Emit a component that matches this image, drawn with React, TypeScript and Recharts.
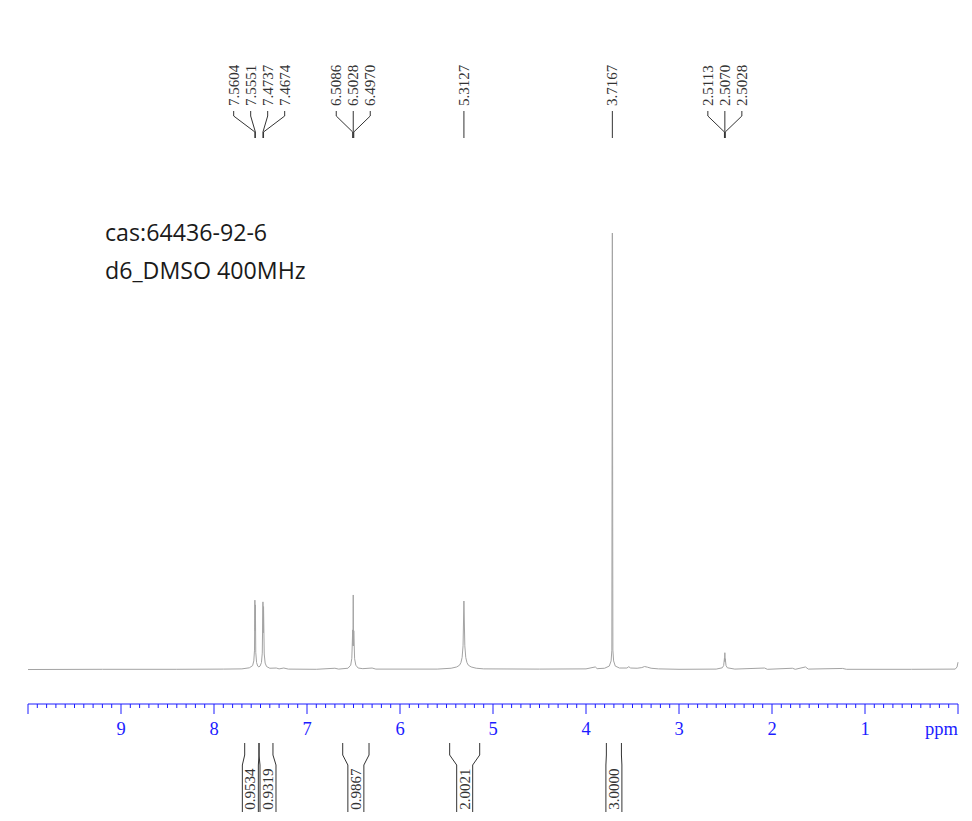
import { ComposedChart, Line, ReferenceLine, XAxis, YAxis } from "recharts";

// 1H NMR spectrum (ppm, relative intensity)
const SPECTRUM_PPM = [
  10.0, 9.2, 8.4, 7.9, 7.7, 7.62, 7.585, 7.572, 7.5645, 7.5604, 7.5578, 7.5551, 7.551, 7.542, 7.53,
  7.517, 7.505, 7.49, 7.481, 7.4737, 7.4705, 7.4674, 7.46, 7.45, 7.435, 7.4, 7.33, 7.3, 7.25, 7.2,
  6.9, 6.7, 6.66, 6.56, 6.53, 6.518, 6.5086, 6.5057, 6.5028, 6.4999, 6.497, 6.488, 6.475, 6.45, 6.4,
  6.3, 6.26, 5.6, 5.45, 5.39, 5.36, 5.345, 5.332, 5.322, 5.3127, 5.303, 5.293, 5.28, 5.265, 5.235,
  5.18, 5.1, 4.5, 4.0, 3.9, 3.88, 3.8, 3.75, 3.73, 3.722, 3.7167, 3.711, 3.703, 3.685, 3.64, 3.56,
  3.54, 3.52, 3.45, 3.4, 3.37, 3.34, 3.3, 3.22, 3.0, 2.6, 2.535, 2.52, 2.5113, 2.5092, 2.507, 2.5049,
  2.5028, 2.494, 2.48, 2.4, 2.08, 2.05, 1.78, 1.75, 1.64, 1.61, 1.24, 1.2, 0.5, 0.03, 0.01, 0.0,
];
const SPECTRUM_INTENSITY = [
  0, 0.05, 0.05, 0.1, 0.15, 0.4, 0.9, 2.0, 4.5, 16.1, 9.0, 15.0, 4.0, 1.6, 0.8,
  0.6, 0.8, 1.6, 3.8, 15.7, 8.5, 14.6, 3.6, 1.5, 0.7, 0.3, 0.35, 0.15, 0.35, 0.1,
  0.05, 0.3, 0.1, 0.3, 1.0, 2.6, 9.2, 5.5, 17.3, 5.5, 9.0, 2.5, 1.0, 0.35, 0.2,
  0.35, 0.1, 0.1, 0.3, 0.6, 1.0, 1.6, 2.8, 5.5, 15.9, 5.5, 2.8, 1.6, 1.0, 0.6,
  0.3, 0.15, 0.1, 0.15, 0.6, 0.2, 0.3, 0.8, 2.0, 4.5, 101.3, 4.5, 2.0, 0.8, 0.35, 0.35,
  0.65, 0.35, 0.3, 0.45, 0.7, 0.55, 0.3, 0.15, 0.05, 0.1, 0.4, 0.9, 2.6, 1.9, 3.9, 1.9,
  2.5, 0.9, 0.4, 0.1, 0.35, 0.05, 0.3, 0.05, 0.6, 0.1, 0.25, 0.05, 0.05, 0.1, 0.6, 1.7,
];

// picked peaks, grouped the way the labels are drawn
const PEAK_GROUPS = [
  [7.5604, 7.5551, 7.4737, 7.4674],
  [6.5086, 6.5028, 6.497],
  [5.3127],
  [3.7167],
  [2.5113, 2.507, 2.5028],
];

// integrals (ppm range and value)
const INTEGRAL_FROM = [7.67, 7.516, 6.616, 5.466, 3.781];
const INTEGRAL_TO = [7.516, 7.366, 6.333, 5.143, 3.619];
const INTEGRAL_VALUES = [0.9534, 0.9319, 0.9867, 2.0021, 3.0];
const INTEGRAL_SHIFT = [-1.5, 2, 0, 0, 0];

const MAJOR_TICKS = [10, 9, 8, 7, 6, 5, 4, 3, 2, 1, 0];
const PPM_TICKS = Array.from({ length: 101 }, (_, i) => Math.round(100 - i) / 10);

const TITLE_LINES = ["cas:64436-92-6", "d6_DMSO 400MHz"];

const WIDTH = 972;
const HEIGHT = 821;
const AXIS_BLUE = "#1c1cff";
const INK = "#333333";
const SERIF = '"Liberation Serif", "Times New Roman", serif';
const LABEL_STEP = 17;

const data = SPECTRUM_PPM.map((ppm, i) => ({ ppm, intensity: SPECTRUM_INTENSITY[i] }));

function PpmTick(props: any) {
  const { x, y, payload } = props;
  const v = payload.value;
  const major = MAJOR_TICKS.some((m) => Math.abs(m - v) < 1e-6);
  return (
    <g>
      <line x1={x} x2={x} y1={y} y2={y + (major ? 10 : 4)} stroke={AXIS_BLUE} />
      {major && v > 0.5 && v < 9.5 && (
        <text x={x} y={y + 31} textAnchor="middle" fill={AXIS_BLUE} fontFamily={SERIF} fontSize={18.5}>
          {v}
        </text>
      )}
      {Math.abs(v) < 1e-6 && (
        <text x={x} y={y + 31} textAnchor="end" fill={AXIS_BLUE} fontFamily={SERIF} fontSize={18.5}>
          ppm
        </text>
      )}
    </g>
  );
}

// x1 = peak position, x2 = centre of its label group
function peakLabelShape(text: string, offset: number, single: boolean) {
  return (p: any) => {
    const peakX = p.x1;
    const lx = p.x2 + offset;
    const d = single ? `M${peakX},111 V138` : `M${lx},111 V116 L${peakX},132 V138`;
    return (
      <g>
        <path d={d} stroke={INK} fill="none" strokeWidth={1} />
        <text
          transform={`translate(${lx},106) rotate(-90)`}
          textAnchor="start"
          dominantBaseline="central"
          fontFamily={SERIF}
          fontSize={15}
          fill={INK}
        >
          {text}
        </text>
      </g>
    );
  };
}

// x1/x2 = integral range edges
function integralShape(text: string, shift: number) {
  return (p: any) => {
    const left = Math.min(p.x1, p.x2);
    const right = Math.max(p.x1, p.x2);
    const c = (left + right) / 2 + shift;
    const d = `M${left},743 V755 L${c - 8},765 V812 M${right},743 V755 L${c + 8},765 V812`;
    return (
      <g>
        <path d={d} stroke={INK} fill="none" strokeWidth={1} />
        <text
          transform={`translate(${c},789) rotate(-90)`}
          textAnchor="middle"
          dominantBaseline="central"
          fontFamily={SERIF}
          fontSize={15}
          fill={INK}
        >
          {text}
        </text>
      </g>
    );
  };
}

export default function App() {
  return (
    <div style={{ position: "absolute", left: 0, top: 0, width: WIDTH, height: HEIGHT, background: "#fff" }}>
      <ComposedChart width={WIDTH} height={HEIGHT} data={data} margin={{ top: 230, right: 14, bottom: 0, left: 28 }}>
        <XAxis
          dataKey="ppm"
          type="number"
          domain={[0, 10]}
          reversed
          ticks={PPM_TICKS}
          interval={0}
          height={117}
          tickLine={false}
          tickSize={0}
          tickMargin={0}
          axisLine={{ stroke: AXIS_BLUE }}
          tick={<PpmTick />}
        />
        <YAxis type="number" domain={[-8, 102]} hide allowDataOverflow />
        <Line
          dataKey="intensity"
          type="linear"
          stroke="#a3a3a3"
          strokeWidth={1}
          dot={false}
          activeDot={false}
          isAnimationActive={false}
        />
        {PEAK_GROUPS.map((group, g) => {
          const center = group.reduce((s, v) => s + v, 0) / group.length;
          return group.map((ppm, i) => (
            <ReferenceLine
              key={`pk-${g}-${i}`}
              segment={[
                { x: ppm, y: 0 },
                { x: center, y: 0 },
              ]}
              ifOverflow="visible"
              shape={peakLabelShape(ppm.toFixed(4), (i - (group.length - 1) / 2) * LABEL_STEP, group.length === 1)}
            />
          ));
        })}
        {INTEGRAL_VALUES.map((val, i) => (
          <ReferenceLine
            key={`int-${i}`}
            segment={[
              { x: INTEGRAL_FROM[i], y: 0 },
              { x: INTEGRAL_TO[i], y: 0 },
            ]}
            ifOverflow="visible"
            shape={integralShape(val.toFixed(4), INTEGRAL_SHIFT[i])}
          />
        ))}
      </ComposedChart>
      <svg
        width={WIDTH}
        height={HEIGHT}
        style={{ position: "absolute", left: 0, top: 0, pointerEvents: "none" }}
      >
        {TITLE_LINES.map((t, i) => (
          <text key={t} x={105} y={241 + i * 37.5} fontFamily='"Open Sans", "Noto Sans", sans-serif' fontSize={23.2} fill="#1a1a1a">
            {t}
          </text>
        ))}
      </svg>
    </div>
  );
}
